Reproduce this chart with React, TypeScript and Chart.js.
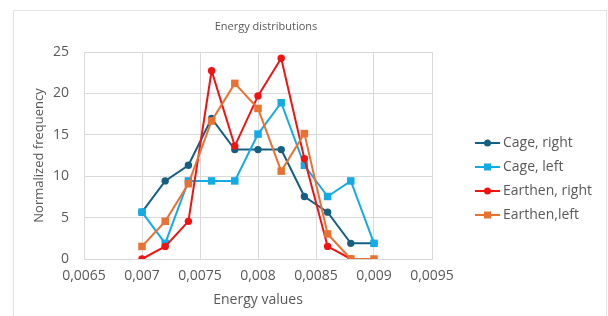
import React, { useEffect, useRef } from "react";
import { Chart, registerables } from "chart.js";

Chart.register(...registerables);

const energyValues = [0.007, 0.0072, 0.0074, 0.0076, 0.0078, 0.008, 0.0082, 0.0084, 0.0086, 0.0088, 0.009];
const cageRight = [5.66, 9.43, 11.32, 16.98, 13.21, 13.21, 13.21, 7.55, 5.66, 1.89, 1.89];
const cageLeft = [5.66, 1.89, 9.43, 9.43, 9.43, 15.09, 18.87, 11.32, 7.55, 9.43, 1.89];
const earthenRight = [0, 1.52, 4.55, 22.73, 13.64, 19.7, 24.24, 12.12, 1.52, 0, null];
const earthenLeft = [1.52, 4.55, 9.09, 16.67, 21.21, 18.18, 10.61, 15.15, 3.03, 0, 0];

const seriesNames = ["Cage, right", "Cage, left", "Earthen, right", "Earthen,left"];
const seriesColors = ["#156082", "#12ABE6", "#F21212", "#E97132"];
const seriesMarkers = ["circle", "rect", "circle", "rect"];
const chartTitle = "Energy distributions";
const xTitle = "Energy values";
const yTitle = "Normalized frequency";

const TEXT = "#595959";
const FONT = "'Open Sans', sans-serif";

const framePlugin = {
  id: "frame",
  beforeDraw(chart: any) {
    const ctx = chart.ctx;
    ctx.save();
    ctx.fillStyle = "#ffffff";
    ctx.fillRect(0, 0, chart.width, chart.height);
    ctx.strokeStyle = "#e3e3e3";
    ctx.lineWidth = 1;
    ctx.strokeRect(13.5, 10.5, 593, 310);
    ctx.fillStyle = TEXT;
    ctx.font = `11px ${FONT}`;
    ctx.textAlign = "center";
    ctx.textBaseline = "middle";
    ctx.fillText(chartTitle, 266, 27);
    ctx.restore();
  },
  afterDraw(chart: any) {
    const ctx = chart.ctx;
    ctx.save();
    const rows = [143, 167, 191, 215];
    for (let i = 0; i < seriesNames.length; i++) {
      const y = rows[i];
      ctx.strokeStyle = seriesColors[i];
      ctx.fillStyle = seriesColors[i];
      ctx.lineWidth = 2;
      ctx.beginPath();
      ctx.moveTo(475, y);
      ctx.lineTo(500, y);
      ctx.stroke();
      if (seriesMarkers[i] === "circle") {
        ctx.beginPath();
        ctx.arc(487.5, y, 3.5, 0, Math.PI * 2);
        ctx.fill();
      } else {
        ctx.fillRect(484, y - 3.5, 7, 7);
      }
      ctx.fillStyle = TEXT;
      ctx.font = `14px ${FONT}`;
      ctx.textAlign = "left";
      ctx.textBaseline = "middle";
      ctx.fillText(seriesNames[i], 503, y);
    }
    ctx.restore();
  },
};

function toPoints(vals: (number | null)[]) {
  return energyValues.map((x, i) => ({ x, y: vals[i] }));
}

export default function App() {
  const ref = useRef<HTMLCanvasElement>(null);
  useEffect(() => {
    if (!ref.current) return;
    const all = [cageRight, cageLeft, earthenRight, earthenLeft];
    const chart = new Chart(ref.current, {
      type: "line",
      data: {
        datasets: all.map((vals, i) => ({
          label: seriesNames[i],
          data: toPoints(vals),
          borderColor: seriesColors[i],
          backgroundColor: seriesColors[i],
          borderWidth: 2,
          pointStyle: seriesMarkers[i] as any,
          pointRadius: seriesMarkers[i] === "circle" ? 3.7 : 5.3,
          pointBorderWidth: 0,
          tension: 0,
          spanGaps: false,
          order: 4 - i,
        })),
      },
      options: {
        animation: false,
        responsive: false,
        devicePixelRatio: 1,
        layout: { padding: { left: 0, top: 52, right: 176, bottom: 0 } },
        plugins: { legend: { display: false }, tooltip: { enabled: false }, title: { display: false } },
        scales: {
          x: {
            type: "linear",
            min: 0.0065,
            max: 0.0095,
            afterFit: (s: any) => { s.height = 57; },
            ticks: {
              stepSize: 0.0005,
              color: TEXT,
              font: { family: FONT, size: 14 },
              padding: 9,
              maxRotation: 0,
              callback: (v: any) => Number(Number(v).toFixed(4)).toString().replace(".", ","),
            },
            grid: { color: "#d9d9d9", drawTicks: false },
            border: { color: "#d9d9d9" },
            title: { display: true, text: xTitle, color: TEXT, font: { family: FONT, size: 14 }, padding: { top: 0, bottom: 8 } },
          },
          y: {
            min: 0,
            max: 25,
            afterFit: (s: any) => { s.width = 84; },
            ticks: { stepSize: 5, color: TEXT, font: { family: FONT, size: 14 }, padding: 15 },
            grid: { color: "#d9d9d9", drawTicks: false },
            border: { color: "#d9d9d9" },
            title: { display: true, text: yTitle, color: TEXT, font: { family: FONT, size: 13 }, padding: { top: 31, bottom: 0 } },
          },
        },
      },
      plugins: [framePlugin],
    });
    return () => chart.destroy();
  }, []);
  return (
    <div style={{ position: "absolute", left: 0, top: 0, width: 608, height: 316 }}>
      <canvas ref={ref} width={608} height={316} style={{ width: 608, height: 316, display: "block" }} />
    </div>
  );
}
